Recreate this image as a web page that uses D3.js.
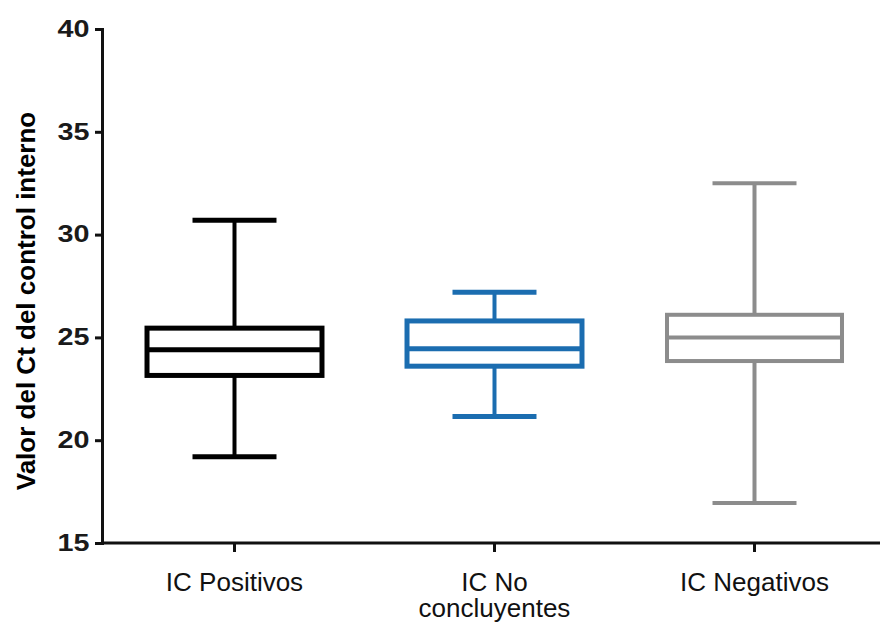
<!DOCTYPE html>
<html>
<head>
<meta charset="utf-8">
<script src="https://cdn.jsdelivr.net/npm/d3@7"></script>
<style>
  html, body { margin: 0; padding: 0; background: #fff; }
  svg { display: block; }
</style>
</head>
<body>
<svg id="chart" width="880" height="624"></svg>
<script>
// data
const categories = ['IC Positivos', 'IC No concluyentes', 'IC Negativos'];
const categoryLines = [['IC Positivos'], ['IC No', 'concluyentes'], ['IC Negativos']];
const whiskerLow = [19.2, 21.15, 16.95];
const boxLow = [23.15, 23.6, 23.85];
const medians = [24.4, 24.45, 25.0];
const boxHigh = [25.45, 25.8, 26.1];
const whiskerHigh = [30.7, 27.2, 32.5];
const boxColors = ['#000000', '#1b6db0', '#8c8c8c'];
const yTicks = [15, 20, 25, 30, 35, 40];
const yTitle = 'Valor del Ct del control interno';

const svg = d3.select('#chart');

const x = d3.scaleBand()
  .domain(categories)
  .range([104.5, 884.5])
  .paddingInner(0.327)
  .paddingOuter(0.1635);

const y = d3.scaleLinear()
  .domain([15, 40])
  .range([543, 29]);

const axisX = 102;

// y axis
const yAxis = svg.append('g')
  .attr('transform', `translate(${axisX},0)`)
  .call(d3.axisLeft(y).tickValues(yTicks).tickSize(7).tickPadding(5));
yAxis.select('.domain').attr('stroke', '#111').attr('stroke-width', 3);
yAxis.selectAll('.tick line').attr('stroke', '#111').attr('stroke-width', 3);
yAxis.selectAll('.tick text')
  .attr('fill', '#1a1a1a')
  .style('font-family', '"Liberation Sans", Arial, sans-serif')
  .style('font-weight', 'bold')
  .style('font-size', '23px')
  .attr('transform', 'scale(1.25,1)')
  .attr('x', -10);

// x axis
const xAxis = svg.append('g')
  .attr('transform', `translate(0,${y(15)})`)
  .call(d3.axisBottom(x).tickSize(9).tickFormat(''));
xAxis.select('.domain')
  .attr('d', `M${axisX},0H880`)
  .attr('stroke', '#111')
  .attr('stroke-width', 3);
xAxis.selectAll('.tick line').attr('stroke', '#111').attr('stroke-width', 3);

// x labels (wrapped)
const labels = svg.append('g');
categories.forEach((c, i) => {
  const cx = x(c) + x.bandwidth() / 2;
  const t = labels.append('text')
    .attr('x', cx)
    .attr('y', 591)
    .attr('text-anchor', 'middle')
    .attr('fill', '#111')
    .style('font-family', '"Liberation Sans", Arial, sans-serif')
    .style('font-size', '26px');
  categoryLines[i].forEach((line, j) => {
    t.append('tspan')
      .attr('x', cx)
      .attr('dy', j === 0 ? 0 : 26)
      .text(line);
  });
});

// y title
svg.append('text')
  .attr('transform', `translate(35,${(y(15) + y(40)) / 2 + 15}) rotate(-90)`)
  .attr('text-anchor', 'middle')
  .attr('fill', '#000')
  .style('font-family', '"Liberation Sans", Arial, sans-serif')
  .style('font-weight', 'bold')
  .style('font-size', '26px')
  .text(yTitle);

// boxes
const boxes = svg.append('g');
categories.forEach((c, i) => {
  const g = boxes.append('g')
    .attr('stroke', boxColors[i])
    .attr('fill', 'none');
  const x0 = x(c);
  const w = x.bandwidth();
  const cx = x0 + w / 2;
  const capW = w * 0.48;
  const sw = i === 2 ? 4 : 5;

  // whiskers
  g.append('line')
    .attr('x1', cx).attr('x2', cx)
    .attr('y1', y(whiskerHigh[i])).attr('y2', y(boxHigh[i]))
    .attr('stroke-width', 4);
  g.append('line')
    .attr('x1', cx).attr('x2', cx)
    .attr('y1', y(boxLow[i])).attr('y2', y(whiskerLow[i]))
    .attr('stroke-width', 4);
  g.append('line')
    .attr('x1', cx - capW / 2).attr('x2', cx + capW / 2)
    .attr('y1', y(whiskerHigh[i])).attr('y2', y(whiskerHigh[i]))
    .attr('stroke-width', sw);
  g.append('line')
    .attr('x1', cx - capW / 2).attr('x2', cx + capW / 2)
    .attr('y1', y(whiskerLow[i])).attr('y2', y(whiskerLow[i]))
    .attr('stroke-width', sw);

  // box
  g.append('rect')
    .attr('x', x0)
    .attr('y', y(boxHigh[i]))
    .attr('width', w)
    .attr('height', y(boxLow[i]) - y(boxHigh[i]))
    .attr('fill', '#fff')
    .attr('stroke-width', sw);
  g.append('line')
    .attr('x1', x0).attr('x2', x0 + w)
    .attr('y1', y(medians[i])).attr('y2', y(medians[i]))
    .attr('stroke-width', sw);
});
</script>
</body>
</html>
